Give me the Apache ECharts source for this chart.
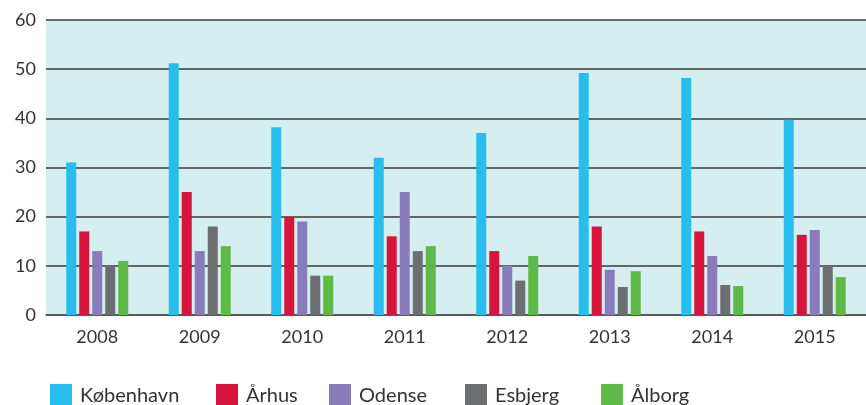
<!DOCTYPE html>
<html>
<head>
<meta charset="utf-8">
<script src="https://cdn.jsdelivr.net/npm/echarts@6/dist/echarts.min.js"></script>
<style>
  html, body { margin: 0; padding: 0; background: #fff; }
  #chart { width: 866px; height: 405px; }
</style>
</head>
<body>
<div id="chart"></div>
<script>
const years = ['2008', '2009', '2010', '2011', '2012', '2013', '2014', '2015'];
const koebenhavn = [31, 51.2, 38.2, 32, 37, 49.2, 48.2, 39.7];
const aarhus = [17, 25, 20, 16, 13, 18, 17, 16.3];
const odense = [13, 13, 19, 25, 10, 9.2, 12, 17.3];
const esbjerg = [10, 18, 8, 13, 7, 5.7, 6.1, 10];
const aalborg = [11, 14, 8, 14, 12, 8.9, 5.9, 7.7];
const yTicks = [0, 10, 20, 30, 40, 50, 60];

const names = ['København', 'Århus', 'Odense', 'Esbjerg', 'Ålborg'];
const colors = ['#27BEEE', '#D7143C', '#8A7CBA', '#6D6E71', '#5FB946'];
const values = [koebenhavn, aarhus, odense, esbjerg, aalborg];
// left edge of each legend swatch
const legendLeft = [50, 216, 329, 465, 601];

const myChart = echarts.init(document.getElementById('chart'));
const option = {
  animation: false,
  textStyle: { fontFamily: 'Lato' },
  grid: {
    left: 46,
    right: 0,
    top: 20,
    bottom: 90,
    show: true,
    backgroundColor: '#D5EEF0',
    borderWidth: 0,
  },
  legend: names.map((name, i) => ({
    left: legendLeft[i],
    top: 384,
    padding: 0,
    itemWidth: 22,
    itemHeight: 24,
    icon: 'rect',
    textStyle: { color: '#333', fontSize: 20, padding: [3, 0, 0, 3] },
    data: [name],
  })),
  xAxis: {
    type: 'category',
    data: years,
    axisTick: { show: false },
    axisLine: { lineStyle: { color: '#555', width: 1.5 } },
    axisLabel: { color: '#333', fontSize: 18, margin: 13 },
  },
  yAxis: {
    type: 'value',
    min: yTicks[0],
    max: yTicks[yTicks.length - 1],
    interval: 10,
    axisLine: { show: false },
    axisTick: { show: false },
    axisLabel: { color: '#333', fontSize: 18, margin: 10 },
    splitLine: { lineStyle: { color: '#3a3a3a', width: 1.5 } },
  },
  series: names.map((name, i) => ({
    name,
    type: 'bar',
    data: values[i],
    barWidth: 10,
    barGap: '30%',
    itemStyle: { color: colors[i] },
  })),
};
myChart.setOption(option);
</script>
</body>
</html>
